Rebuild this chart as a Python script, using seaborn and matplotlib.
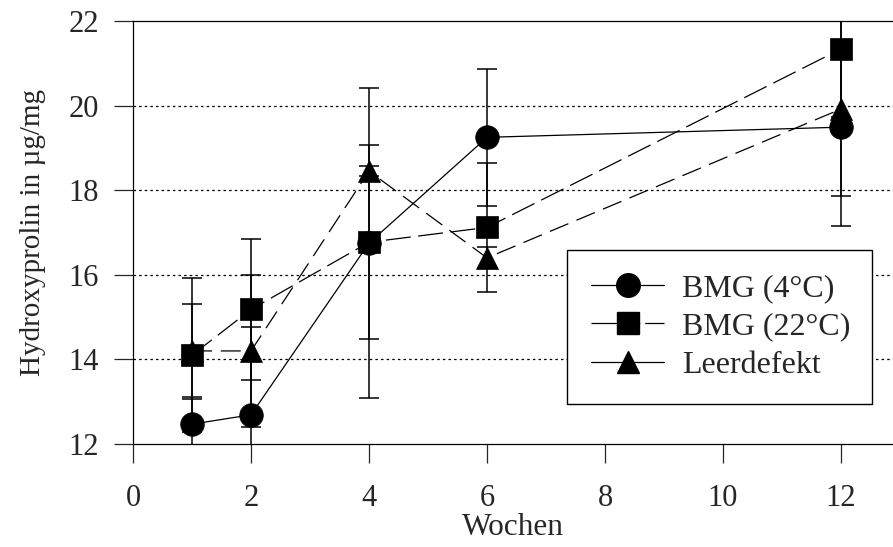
import matplotlib
matplotlib.use("Agg")
import matplotlib.pyplot as plt
import pandas as pd
import seaborn as sns
from matplotlib.lines import Line2D

# Werte (Mittelwert und Standardabweichung).
wochen = [1, 2, 4, 6, 12]
bmg_4 = [12.47, 12.69, 16.75, 19.25, 19.49]
bmg_4_err = [0.59, 2.08, 3.67, 1.62, 1.63]
bmg_22 = [14.10, 15.18, 16.77, 17.12, 21.34]
bmg_22_err = [1.82, 1.67, 2.29, 1.53, 1.60]
leerdefekt = [14.20, 14.20, 18.45, 16.40, 19.92]
leerdefekt_err = [1.10, 1.79, 0.12, 0.25, 2.77]

namen = ["BMG (4°C)", "BMG (22°C)", "Leerdefekt"]
y_ticks = [12, 14, 16, 18, 20, 22]
x_ticks = [0, 2, 4, 6, 8, 10, 12]

sns.set_style("ticks")
plt.rcParams["font.family"] = ["Liberation Serif", "DejaVu Serif"]
plt.rcParams["font.size"] = 22

fig = plt.figure(figsize=(8.93, 5.47), dpi=100)
ax = fig.add_axes([133 / 893, 103 / 547, 1 - 133 / 893, 423 / 547])

stile = [
    dict(marker="o", ms=17, ls="-"),
    dict(marker="s", ms=15.5, ls=(0, (20, 6))),
    dict(marker="^", ms=16, ls=(0, (16, 7))),
]
werte = [bmg_4, bmg_22, leerdefekt]
fehler = [bmg_4_err, bmg_22_err, leerdefekt_err]

for name, y, err, st in zip(namen, werte, fehler, stile):
    df = pd.DataFrame({"Wochen": wochen, "Wert": y})
    ax.errorbar(wochen, y, yerr=err, fmt="none", ecolor="black",
                elinewidth=1.1, capsize=7, capthick=1.1, zorder=2)
    sns.lineplot(data=df, x="Wochen", y="Wert", ax=ax, color="black",
                 marker=st["marker"], markersize=st["ms"],
                 markeredgecolor="black", markerfacecolor="black",
                 markeredgewidth=0.5, linewidth=0.9, linestyle=st["ls"],
                 zorder=3, legend=False)

# Gepunktete Hilfslinien
for yv in y_ticks[1:-1]:
    ax.axhline(yv, color="black", lw=0.9, ls=(0, (2, 2.5)), zorder=1)

ax.set_xlim(0, 12.88)
ax.set_ylim(12, 22)
ax.set_xticks(x_ticks)
ax.set_yticks(y_ticks)
ax.tick_params(direction="out", length=14, width=0.9, labelsize=22)
ax.tick_params(axis="x", pad=15)
ax.tick_params(axis="y", pad=10.5)
for s in ["left", "bottom", "top"]:
    ax.spines[s].set_linewidth(0.9)
    ax.spines[s].set_color("black")
ax.spines["right"].set_visible(False)

ax.set_xlabel("Wochen", fontsize=22.5, labelpad=0)
ax.set_ylabel("Hydroxyprolin in µg/mg", fontsize=21, labelpad=16)

# Legendensymbole wie im Original: BMG (22°C) mit Lücke rechts
legenden_stile = ["-", (0, (39, 4, 30, 4)), "-"]
handles = [
    Line2D([], [], color="black", marker=st["marker"], markersize=st["ms"],
           linestyle=ls, linewidth=0.9)
    for st, ls in zip(stile, legenden_stile)
]
leg = ax.legend(handles, namen, loc="lower left",
                bbox_to_anchor=(0.571, 0.095, 0.401, 0.361), mode="expand",
                fontsize=23, frameon=True, fancybox=False, handlelength=2.3,
                handletextpad=0.55, borderpad=0.75, labelspacing=0.28,
                borderaxespad=0)
leg.get_frame().set_edgecolor("black")
leg.get_frame().set_linewidth(1.0)
leg.get_frame().set_alpha(1)
leg.set_zorder(5)

fig.savefig("out.png", dpi=100)
